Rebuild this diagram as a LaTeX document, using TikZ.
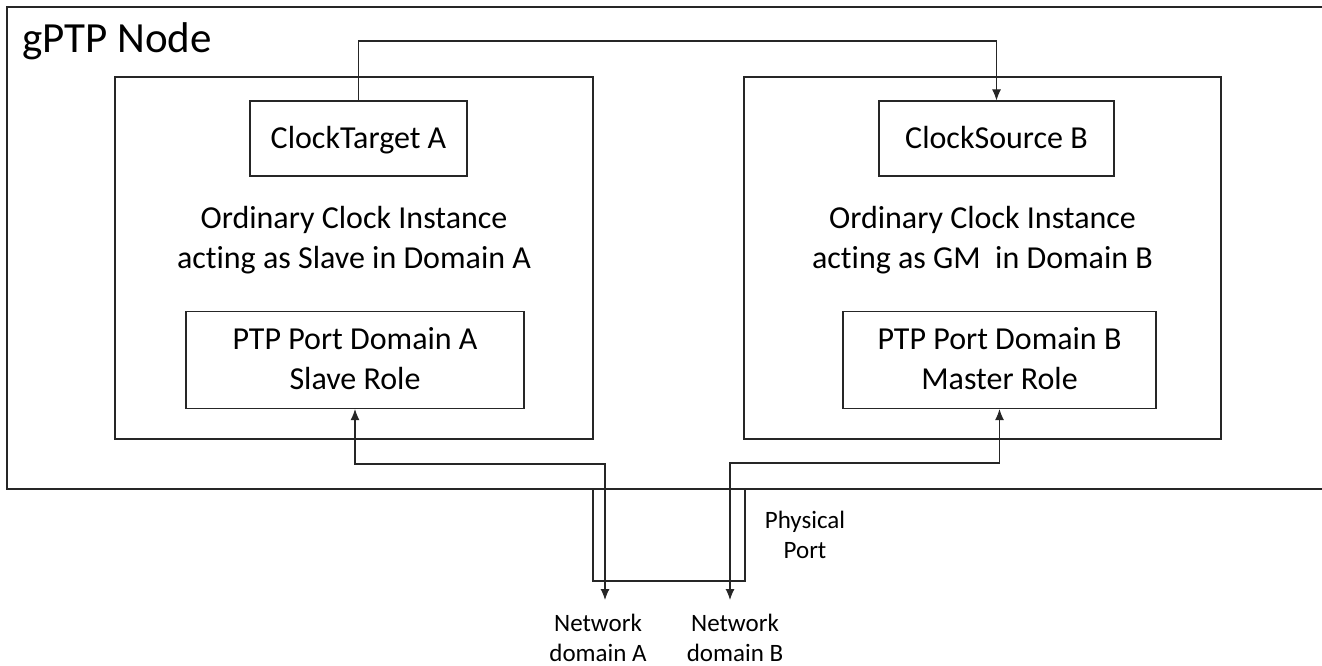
\documentclass[tikz,border=0pt]{standalone}
\usepackage{fontspec}
\setmainfont[Ligatures={NoCommon,NoRare,NoContextual}]{Carlito}
\usetikzlibrary{arrows.meta}
\newcommand{\nolig}{\kern0pt{}}
\begin{document}
\begin{tikzpicture}[x=1pt,y=-1pt,
  ln/.style={draw=black!85,line width=1.1pt},
  box/.style={ln,rectangle,inner sep=0pt,align=center},
  body/.style={font=\fontsize{32}{40}\selectfont},
  line/.style={body,anchor=base,inner sep=0pt},
  small/.style={font=\fontsize{25}{30.5}\selectfont,align=center,inner sep=0pt},
  arr/.style={ln,-{Latex[length=11pt,width=9pt]}},
  darr/.style={ln,{Latex[length=11pt,width=9pt]}-{Latex[length=11pt,width=9pt]}}]
\useasboundingbox (0,0) rectangle (1322,666);
% outer gPTP node (open on the right)
\draw[ln,line width=1.4pt] (1322,7) -- (7,7) -- (7,489) -- (1322,489);
\node[anchor=base west,inner sep=0pt,font=\fontsize{43}{52}\selectfont] (title) at (22,53) {gPTP Node};
% instance boxes
\node[box,minimum width=478pt,minimum height=362pt] (boxA) at (354,258) {};
\node[box,minimum width=477pt,minimum height=362pt] (boxB) at (982.5,258) {};
\node[line] (txtA1) at (354,228) {Ordinary Clock Instance};
\node[line] (txtA2) at (354,268) {act\nolig ing as Slave in Domain A};
\node[line] (txtB1) at (982.5,228) {Ordinary Clock Instance};
\node[line] (txtB2) at (982.5,268) {act\nolig ing as GM\ \ in Domain B};
% clock boxes
\node[box,body,minimum width=217pt,minimum height=75pt,text height=24pt,text depth=5pt] (ct) at (358.5,138.5) {ClockTarget A};
\node[box,body,minimum width=235pt,minimum height=75pt,text height=24pt,text depth=5pt] (cs) at (996.5,138.5) {ClockSource B};
% port boxes
\node[box,minimum width=338pt,minimum height=97pt] (pa) at (355,360) {};
\node[line] (paT1) at (355,349) {PTP Port Domain A};
\node[line] (paT2) at (355,389) {Slave Role};
\node[box,minimum width=313pt,minimum height=97pt] (pb) at (999.5,360) {};
\node[line] (pbT1) at (999.5,349) {PTP Port Domain B};
\node[line] (pbT2) at (999.5,389) {Master Role};
% clock connector
\coordinate (top) at (0,41);
\draw[arr] (ct.north) -- (ct.north |- top) -| (cs.north);
% physical port
\coordinate (ppl) at (593,489);
\coordinate (ppr) at (745,489);
\draw[ln] (ppl) -- (593,581) -- (745,581) -- (ppr);
\node[small] (phys) at (805,535) {Physical\\Port};
% network ends
\coordinate (na) at (605,600);
\coordinate (nb) at (730,600);
\node[small] (netA) at (598,638) {Network\\domain A};
\node[small] (netB) at (735,638) {Network\\domain B};
\draw[darr] (pa.south) -- (pa.south |- 0,464) -| (na);
\draw[darr] (pb.south) -- (pb.south |- 0,463) -| (nb);
\end{tikzpicture}
\end{document}
